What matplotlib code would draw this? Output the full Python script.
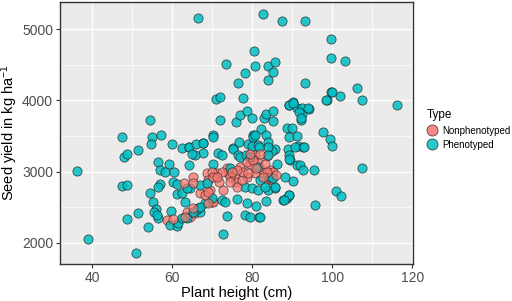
import matplotlib
matplotlib.use("Agg")
import matplotlib.pyplot as plt
from matplotlib.lines import Line2D

plt.rcParams["font.family"] = ["Liberation Sans", "DejaVu Sans"]
plt.rcParams["mathtext.default"] = "regular"

# phenotyped lines (plant height cm, seed yield kg/ha)
pheno_height = [
    66.6, 82.7, 87.4, 93.3, 80.5, 99.8, 73.5, 80.8, 84.1, 85.8, 85.2, 78.3, 76.4, 84.1,
    99.8, 103.2, 93.3, 77.8, 71.0, 72.0, 99.8, 101.9, 106.3, 98.7, 107.5, 116.3,
    71.9, 76.0, 77.0, 78.7, 80.1, 83.0, 83.4, 85.3, 85.2, 89.3, 90.3, 91.2, 94.1, 92.4,
    92.4, 92.3, 93.9, 88.7, 89.9, 82.3, 70.3, 80.3, 83.5, 97.6, 99.5, 99.9, 89.3, 91.2,
    54.5, 47.6, 54.9, 57.3, 54.8, 59.9, 62.4, 64.3, 67.7, 70.3, 75.2, 76.8, 51.6, 79.1,
    80.3, 80.8,
    48.0, 48.7, 36.2, 47.4, 48.7, 56.6, 59.3, 57.0, 58.3, 60.6, 60.3, 61.2, 57.0, 56.4,
    54.5, 55.2, 61.2, 56.0, 55.5, 56.6, 56.2, 51.4, 48.8, 54.1, 59.8, 59.5, 38.9, 51.0,
    61.2, 61.6, 63.3, 64.5, 67.0, 66.6,
    64.3, 66.0, 67.8, 67.7, 65.8, 64.9, 71.6, 72.4, 75.3, 76.6, 79.9, 81.6, 84.1, 85.8,
    84.9, 88.9, 89.3, 91.6, 77.0, 78.4, 79.5, 64.3, 70.2, 74.5, 81.4, 86.2, 89.5, 91.2,
    88.3, 90.2, 84.5, 82.0, 62.4, 63.7, 67.0, 68.7, 78.3, 79.9, 81.6, 85.8, 84.1, 76.3,
    78.7, 83.5, 87.8, 88.7, 89.3, 68.3, 69.9, 72.4, 73.3, 66.2, 67.0, 65.3, 63.7, 62.4,
    73.7, 78.3, 79.5, 81.8, 72.7,
    92.8, 92.0, 92.8, 95.5, 107.5, 100.9, 102.3, 95.8, 89.2, 85.2, 85.8, 83.3, 89.2, 88.1,
    82.0, 81.0, 89.2, 90.3, 91.8, 92.3, 98.5, 100.0, 90.8, 92.9, 83.9, 81.8, 83.9,
]
pheno_yield = [
    5155, 5215, 5120, 5110, 4690, 4865, 4505, 4480, 4480, 4535, 4395, 4385, 4240, 4280,
    4595, 4555, 4240, 4030, 4020, 4055, 4115, 4065, 4170, 4000, 4000, 3940,
    3730, 3700, 3800, 3845, 3760, 3750, 3810, 3855, 3715, 3935, 3975, 3895, 3880, 3890,
    3810, 3720, 3900, 3610, 3610, 3600, 3510, 3510, 3520, 3560, 3460, 3360, 3490, 3500,
    3725, 3480, 3480, 3515, 3385, 3385, 3330, 3350, 3400, 3480, 3330, 3420, 3310, 3385,
    3480, 3515,
    3200, 3245, 3005, 2800, 2810, 3140, 3115, 3030, 3000, 3000, 2860, 2825, 2825, 2780,
    2705, 2580, 2685, 2470, 2440, 2355, 2390, 2425, 2330, 2220, 2450, 2250, 2050, 1865,
    2235, 2275, 2580, 2765, 2440, 2485,
    3340, 3385, 3405, 3265, 3235, 3245, 3265, 3235, 3325, 3235, 3360, 3375, 3420, 3325,
    3295, 3325, 3235, 3360, 3210, 3235, 3210, 3095, 3115, 3045, 3070, 3115, 3165, 3095,
    2930, 2870, 2930, 2880, 2695, 2765, 2810, 2835, 2790, 2765, 2740, 2765, 2750, 2610,
    2555, 2590, 2600, 2625, 2670, 2555, 2625, 2600, 2580, 2470, 2510, 2440, 2345, 2345,
    2375, 2390, 2365, 2360, 2120,
    3340, 3095, 3030, 3020, 3055, 2730, 2660, 2530, 3175, 2905, 2790, 2780, 2680, 2600,
    2365, 2520, 3930, 3960, 3840, 3750, 4005, 4120, 3350, 3350, 3350, 3350, 3235,
]

# nonphenotyped lines
nonpheno_height = [
    58.7, 60.3, 63.7, 65.3, 65.8, 63.3, 64.5, 69.1, 69.9, 63.0, 65.2, 65.3, 68.7, 69.9,
    71.2, 72.4, 69.1, 70.3, 73.7, 74.5, 75.8, 76.2, 72.7, 74.5, 76.0, 77.4, 78.7, 78.7,
    79.5, 80.3, 81.6, 79.5, 80.8, 82.0, 83.8, 83.3, 82.4, 83.7, 84.5, 82.8, 84.1, 77.8,
    77.0, 76.2, 71.8, 71.2, 80.8, 79.1, 67.0, 68.3, 69.5, 69.1, 70.3, 75.0, 74.0, 81.0,
    85.3, 86.0, 84.8,
]
nonpheno_yield = [
    2320, 2330, 2440, 2485, 2415, 2365, 2365, 2555, 2580, 2845, 2920, 2835, 2975, 3000,
    2985, 3000, 2880, 2930, 3045, 2930, 2930, 2790, 2750, 2860, 2860, 2880, 2920, 3140,
    3115, 3165, 3140, 3255, 3235, 3255, 3220, 3115, 3020, 3000, 3020, 2930, 2880, 3000,
    3070, 3020, 2860, 2930, 2975, 2985, 2695, 2670, 2740, 2720, 2580, 3000, 2980, 3050,
    3000, 2960, 2900,
]

red = "#F8766D"
teal = "#00BFC4"

fig = plt.figure(figsize=(5.12, 3.01), dpi=100)
ax = fig.add_axes([0.117, 0.123, 0.690, 0.870])
ax.set_facecolor("#EBEBEB")

# ggplot drew the groups mixed, so put part of the red under the teal
ax.scatter(nonpheno_height[::2], nonpheno_yield[::2], s=44, c=red,
           edgecolors="#1a1a1a", linewidths=0.5, alpha=0.75, zorder=2)
ax.scatter(pheno_height, pheno_yield, s=44, c=teal, edgecolors="#1a1a1a",
           linewidths=0.5, alpha=0.85, zorder=3)
ax.scatter(nonpheno_height[1::2], nonpheno_yield[1::2], s=44, c=red,
           edgecolors="#1a1a1a", linewidths=0.5, alpha=0.7, zorder=4)

ax.set_xlim(32, 120.25)
ax.set_ylim(1705, 5380)
ax.set_xticks([40, 60, 80, 100, 120])
ax.set_yticks([2000, 3000, 4000, 5000])
ax.set_xticks([50, 70, 90, 110], minor=True)
ax.set_yticks([2500, 3500, 4500], minor=True)
ax.grid(True, which="major", color="white", linewidth=1.0, zorder=0)
ax.grid(True, which="minor", color="white", linewidth=0.5, zorder=0)
ax.set_axisbelow(True)
ax.tick_params(which="major", length=3, width=0.8, color="#333333",
               labelsize=10, labelcolor="#4D4D4D", pad=2)
ax.tick_params(which="minor", length=0)
for sp in ax.spines.values():
    sp.set_color("#333333")
    sp.set_linewidth(1.0)

ax.set_xlabel("Plant height (cm)", fontsize=10.5, labelpad=1)
ax.set_ylabel(r"Seed yield in kg ha$^{-1}$", fontsize=10.5, labelpad=1)

handles = [
    Line2D([], [], marker="o", linestyle="", markersize=8, markerfacecolor=red,
           markeredgecolor="#1a1a1a", markeredgewidth=0.5, alpha=0.85),
    Line2D([], [], marker="o", linestyle="", markersize=8, markerfacecolor=teal,
           markeredgecolor="#1a1a1a", markeredgewidth=0.5, alpha=0.85),
]
leg = fig.legend(handles, ["Nonphenotyped", "Phenotyped"], title="Type",
                 loc="upper left", bbox_to_anchor=(0.82, 0.66), frameon=False,
                 fontsize=7, title_fontsize=8.5, handlelength=1.0,
                 handletextpad=0.6, labelspacing=0.45, alignment="left",
                 borderpad=0.2)

fig.savefig("out.png", dpi=100)
